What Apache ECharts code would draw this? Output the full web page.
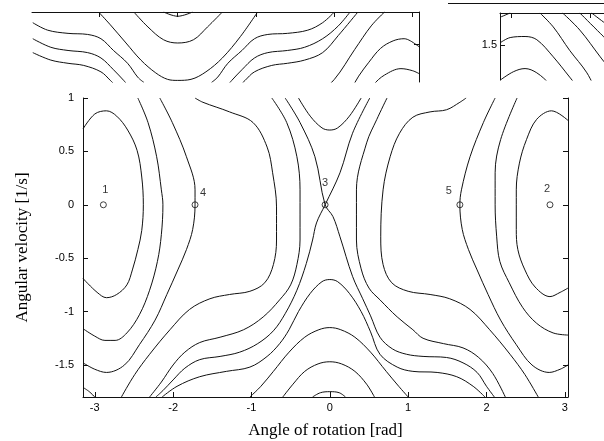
<!DOCTYPE html>
<html>
<head>
<meta charset="utf-8">
<script src="https://cdn.jsdelivr.net/npm/echarts@6/dist/echarts.min.js"></script>
<style>
html,body{margin:0;padding:0;background:#fff;}
#main{width:604px;height:441px;}
</style>
</head>
<body>
<div id="main"></div>
<script>
// tick values
var xTicks = [-3, -2, -1, 0, 1, 2, 3];
var yTicks = [-1.5, -1, -0.5, 0, 0.5, 1];

// equilibrium points
var eqNames = ['1', '2', '3', '4', '5'];
var eqX = [-2.89, 2.81, -0.06, -1.72, 1.66];
var eqY = [0, 0, 0, 0, 0];

// contour lines of the main plot  [angle, velocity]
var cA_L = [[-3.15,0.71],[-3.0,0.85],[-2.85,0.88],[-2.72,0.83],[-2.58,0.70],[-2.46,0.51],[-2.40,0.26],[-2.38,0],[-2.40,-0.24],[-2.45,-0.42],[-2.52,-0.61],[-2.59,-0.75],[-2.72,-0.84],[-2.85,-0.87],[-2.97,-0.82],[-3.15,-0.69]];
var cA_R = [[3.04,0.79],[2.83,0.88],[2.64,0.80],[2.51,0.61],[2.42,0.39],[2.38,0.14],[2.38,0],[2.38,-0.23],[2.40,-0.42],[2.49,-0.61],[2.62,-0.77],[2.81,-0.86],[2.94,-0.82],[3.04,-0.78]];
var cB_L = [[-2.45,1.0],[-2.32,0.77],[-2.21,0.45],[-2.15,0.14],[-2.13,0],[-2.15,-0.28],[-2.20,-0.53],[-2.30,-0.80],[-2.43,-1.03],[-2.59,-1.20],[-2.74,-1.27],[-2.87,-1.27],[-3.0,-1.23],[-3.15,-1.16]];
var cB_R = [[2.39,1.0],[2.18,0.61],[2.11,0.30],[2.11,0],[2.13,-0.30],[2.17,-0.53],[2.29,-0.73],[2.46,-0.96],[2.64,-1.11],[2.85,-1.20],[3.04,-1.22]];
var cC_L = [[-2.17,1.0],[-2.01,0.77],[-1.83,0.45],[-1.72,0.14],[-1.72,0],[-1.75,-0.23],[-1.83,-0.42],[-1.94,-0.61],[-2.08,-0.84],[-2.23,-1.08],[-2.43,-1.31],[-2.62,-1.50],[-2.85,-1.57],[-3.0,-1.54],[-3.15,-1.48]];
var cC_R = [[2.11,1.0],[1.96,0.77],[1.79,0.45],[1.68,0.14],[1.66,0],[1.69,-0.23],[1.77,-0.42],[1.88,-0.61],[2.02,-0.84],[2.18,-1.08],[2.38,-1.31],[2.58,-1.50],[2.80,-1.57],[2.94,-1.54],[3.04,-1.50]];
var cCorner = [[-3.15,-1.71],[-3.07,-1.75],[-3.0,-1.8]];
var cD_L = [[-1.72,1.0],[-1.62,0.96],[-1.28,0.87],[-0.98,0.77],[-0.80,0.54],[-0.73,0.30],[-0.68,-0.02],[-0.68,-0.33],[-0.72,-0.56],[-0.83,-0.73],[-1.02,-0.81],[-1.28,-0.84],[-1.53,-0.88],[-1.79,-0.98],[-2.04,-1.17],[-2.30,-1.40],[-2.49,-1.59],[-2.66,-1.80]];
var cD_R = [[1.74,1.0],[1.66,0.96],[1.49,0.89],[1.28,0.87],[1.06,0.82],[0.89,0.67],[0.77,0.45],[0.68,0.14],[0.65,-0.30],[0.68,-0.56],[0.79,-0.73],[1.0,-0.81],[1.28,-0.84],[1.53,-0.88],[1.79,-0.98],[2.04,-1.17],[2.30,-1.40],[2.49,-1.59],[2.66,-1.80]];
var cE_L = [[-0.74,1.0],[-0.55,0.77],[-0.42,0.45],[-0.38,0.14],[-0.38,-0.33],[-0.42,-0.56],[-0.50,-0.75],[-0.64,-0.89],[-0.85,-1.05],[-1.10,-1.17],[-1.40,-1.24],[-1.66,-1.29],[-1.85,-1.38],[-2.0,-1.50],[-2.15,-1.66],[-2.30,-1.8]];
var cE_R = [[0.73,1.0],[0.60,0.80],[0.47,0.58],[0.34,0.14],[0.34,-0.33],[0.40,-0.60],[0.50,-0.78],[0.64,-0.89],[0.86,-1.05],[1.06,-1.17],[1.19,-1.25],[1.45,-1.30],[1.70,-1.34],[1.90,-1.43],[2.08,-1.58],[2.24,-1.8]];
var cX1 = [[-0.57,1.0],[-0.38,0.77],[-0.19,0.45],[-0.06,0],[0.04,-0.11],[0.13,-0.30],[0.29,-0.67],[0.42,-0.88],[0.52,-1.04],[0.64,-1.24],[0.80,-1.35],[0.98,-1.40],[1.19,-1.42],[1.49,-1.43],[1.70,-1.48],[1.88,-1.57],[2.0,-1.70],[2.10,-1.8]];
var cX2 = [[0.51,1.0],[0.29,0.67],[0.13,0.30],[-0.06,0],[-0.17,-0.17],[-0.22,-0.33],[-0.30,-0.55],[-0.42,-0.80],[-0.57,-1.02],[-0.72,-1.18],[-0.92,-1.30],[-1.15,-1.38],[-1.40,-1.42],[-1.66,-1.45],[-1.85,-1.53],[-2.0,-1.64],[-2.13,-1.74],[-2.22,-1.8]];
var cU = [[-0.40,1.0],[-0.25,0.83],[-0.10,0.72],[0,0.70],[0.10,0.72],[0.25,0.83],[0.40,1.0]];
var cArch0 = [[-2.14,-1.8],[-1.95,-1.70],[-1.66,-1.61],[-1.32,-1.56],[-1.02,-1.52],[-0.80,-1.42],[-0.64,-1.30],[-0.52,-1.17],[-0.40,-1.0],[-0.25,-0.83],[-0.10,-0.72],[0,-0.70],[0.10,-0.72],[0.25,-0.83],[0.40,-1.0],[0.52,-1.19],[0.64,-1.40],[0.86,-1.52],[1.06,-1.56],[1.37,-1.57],[1.62,-1.61],[1.83,-1.70],[1.98,-1.8]];
var cArch1 = [[-1.02,-1.8],[-0.88,-1.70],[-0.72,-1.56],[-0.52,-1.38],[-0.32,-1.24],[-0.14,-1.17],[0,-1.15],[0.14,-1.17],[0.32,-1.24],[0.52,-1.38],[0.72,-1.56],[0.88,-1.70],[1.0,-1.8]];
var cArch2 = [[-0.60,-1.8],[-0.47,-1.68],[-0.32,-1.56],[-0.15,-1.49],[0,-1.47],[0.15,-1.49],[0.32,-1.56],[0.47,-1.68],[0.57,-1.8]];
var cCap = [[-0.22,-1.8],[-0.12,-1.76],[0,-1.75],[0.12,-1.76],[0.20,-1.8]];

// contour lines of the upper strip (left piece)
var s1 = [[-1.01,1.8],[-0.86,1.68],[-0.66,1.51],[-0.47,1.35],[-0.28,1.23],[-0.13,1.17],[0,1.16],[0.17,1.17],[0.36,1.24],[0.57,1.37],[0.80,1.57],[1.02,1.8]];
var s2 = [[-0.56,1.8],[-0.38,1.66],[-0.18,1.54],[0,1.51],[0.20,1.54],[0.38,1.66],[0.57,1.8]];
var s3 = [[-0.18,1.8],[0,1.76],[0.19,1.8]];
var s4 = [[-1.85,1.70],[-1.66,1.63],[-1.40,1.60],[-1.15,1.59],[-0.98,1.55],[-0.82,1.44],[-0.64,1.32],[-0.51,1.19],[-0.43,1.14]];
var s5 = [[-1.85,1.55],[-1.62,1.47],[-1.40,1.44],[-1.15,1.42],[-0.98,1.37],[-0.82,1.26],[-0.69,1.16],[-0.62,1.10]];
var s6 = [[-1.85,1.42],[-1.62,1.35],[-1.40,1.32],[-1.20,1.30],[-0.98,1.24],[-0.86,1.16],[-0.75,1.08]];
var s7 = [[0.43,1.14],[0.51,1.19],[0.64,1.32],[0.82,1.44],[0.98,1.55],[1.15,1.59],[1.40,1.60],[1.66,1.63],[1.85,1.70],[2.0,1.8]];
var s8 = [[0.62,1.10],[0.69,1.16],[0.82,1.26],[0.98,1.37],[1.15,1.42],[1.40,1.44],[1.62,1.47],[1.85,1.55],[2.05,1.67],[2.20,1.8]];
var s9 = [[0.75,1.08],[0.86,1.16],[0.98,1.24],[1.20,1.30],[1.40,1.32],[1.62,1.35],[1.85,1.42],[2.05,1.58],[2.30,1.8]];
var s10 = [[1.74,1.0],[2.0,1.17],[2.26,1.45],[2.47,1.67],[2.64,1.8]];
var s11 = [[2.11,1.0],[2.21,1.08],[2.31,1.20],[2.44,1.33],[2.59,1.46],[2.75,1.53],[2.89,1.55],[2.97,1.53],[3.09,1.47]];
var s12 = [[2.39,1.0],[2.50,1.12],[2.64,1.21],[2.85,1.27],[3.0,1.25],[3.09,1.22]];

// upper strip (right piece)
var r1 = [[-3.15,1.52],[-3.02,1.57],[-2.83,1.58],[-2.68,1.55],[-2.47,1.39],[-2.26,1.20],[-2.13,1.08]];
var r2 = [[-3.15,1.17],[-2.98,1.25],[-2.83,1.28],[-2.68,1.24],[-2.51,1.13],[-2.38,1.01]];
var r3 = [[-2.64,1.8],[-2.47,1.67],[-2.26,1.45],[-2.04,1.24],[-1.91,1.05]];
var r4 = [[-2.35,1.8],[-2.13,1.64],[-1.87,1.39],[-1.72,1.25]];
var r5 = [[-2.13,1.8],[-1.87,1.61],[-1.72,1.50]];
var r6 = [[-3.15,1.76],[-3.02,1.8]];
var r7 = [[-1.98,1.8],[-1.80,1.70],[-1.74,1.67]];

var mainCurves = [cA_L, cA_R, cB_L, cB_R, cC_L, cC_R, cCorner, cD_L, cD_R, cE_L, cE_R, cX1, cX2, cU, cArch0, cArch1, cArch2, cCap];
var stripCurves = [s1, s2, s3, s4, s5, s6, s7, s8, s9, s10, s11, s12];
var pieceCurves = [r1, r2, r3, r4, r5, r6, r7];

var FONT = 'Liberation Sans';
var SERIF = 'Liberation Serif';
var INK = '#111';

function line(d, xi, yi) {
  return {
    type: 'line', data: d, xAxisIndex: xi, yAxisIndex: yi,
    showSymbol: false, smooth: 0.35, silent: true,
    lineStyle: { color: INK, width: 1 }
  };
}

var series = [];
mainCurves.forEach(function (c) { series.push(line(c, 0, 0)); });
stripCurves.forEach(function (c) { series.push(line(c, 1, 2)); });
pieceCurves.forEach(function (c) { series.push(line(c, 2, 3)); });

var labelOffsets = { '1': [2, -15], '2': [-3, -16], '3': [0, -22], '4': [8, -12], '5': [-11, -14] };
series.push({
  type: 'scatter', xAxisIndex: 0, yAxisIndex: 0, symbol: 'circle', symbolSize: 6, silent: true,
  itemStyle: { color: '#fff', borderColor: INK, borderWidth: 1 },
  data: eqNames.map(function (n, i) {
    return { name: n, value: [eqX[i], eqY[i]], label: { offset: labelOffsets[n] } };
  }),
  label: { show: true, position: 'inside', formatter: '{b}', color: '#000', fontSize: 11, fontFamily: FONT }
});

var axLine = { show: true, onZero: false, lineStyle: { color: INK, width: 1 } };

var option = {
  animation: false,
  backgroundColor: '#fff',
  grid: [
    { left: 83, top: 98, width: 485, height: 299, containLabel: false, outerBoundsMode: 'none' },
    { left: 32, top: 12, width: 387, height: 70, containLabel: false, outerBoundsMode: 'none' },
    { left: 500, top: 13, width: 110, height: 67, containLabel: false, outerBoundsMode: 'none' }
  ],
  xAxis: [
    {
      type: 'value', gridIndex: 0, min: -3.15, max: 3.04,
      axisLine: axLine,
      axisTick: { show: true, inside: true, length: 5, customValues: xTicks, lineStyle: { color: INK } },
      axisLabel: { customValues: xTicks, color: '#000', fontSize: 11, fontFamily: FONT, margin: 5 },
      splitLine: { show: false },
      name: 'Angle of rotation [rad]', nameLocation: 'middle', nameGap: 25,
      nameTextStyle: { fontFamily: SERIF, fontSize: 17, color: '#000' }
    },
    {
      type: 'value', gridIndex: 1, position: 'top', min: -1.86, max: 3.08,
      axisLine: axLine,
      axisTick: { show: true, inside: true, length: 5, customValues: [-1, 0, 1, 2, 3], lineStyle: { color: INK } },
      axisLabel: { show: false }, splitLine: { show: false }
    },
    {
      type: 'value', gridIndex: 2, position: 'top', min: -3.15, max: -1.745,
      axisLine: axLine,
      axisTick: { show: true, inside: true, length: 5, customValues: [-3, -2], lineStyle: { color: INK } },
      axisLabel: { show: false }, splitLine: { show: false }
    }
  ],
  yAxis: [
    {
      type: 'value', gridIndex: 0, min: -1.8, max: 1,
      axisLine: axLine,
      axisTick: { show: true, inside: true, length: 5, customValues: yTicks, lineStyle: { color: INK } },
      axisLabel: { customValues: yTicks, color: '#000', fontSize: 11, fontFamily: FONT, margin: 9 },
      splitLine: { show: false },
      name: 'Angular velocity [1/s]', nameLocation: 'middle', nameGap: 52,
      nameTextStyle: { fontFamily: SERIF, fontSize: 17, color: '#000' }
    },
    {
      type: 'value', gridIndex: 0, position: 'right', min: -1.8, max: 1,
      axisLine: axLine,
      axisTick: { show: true, inside: true, length: 5, customValues: yTicks, lineStyle: { color: INK } },
      axisLabel: { show: false }, splitLine: { show: false }
    },
    {
      type: 'value', gridIndex: 1, position: 'right', min: 1.145, max: 1.8,
      axisLine: axLine,
      axisTick: { show: true, inside: true, length: 5, customValues: [1.5], lineStyle: { color: INK } },
      axisLabel: { show: false }, splitLine: { show: false }
    },
    {
      type: 'value', gridIndex: 2, position: 'left', min: 1.173, max: 1.8,
      axisLine: axLine,
      axisTick: { show: true, inside: true, length: 5, customValues: [1.5], lineStyle: { color: INK } },
      axisLabel: { customValues: [1.5], color: '#000', fontSize: 11, fontFamily: FONT, margin: 3 },
      splitLine: { show: false }
    }
  ],
  graphic: [
    { type: 'line', shape: { x1: 448, y1: 3.5, x2: 604, y2: 3.5 }, style: { stroke: INK, lineWidth: 1 }, silent: true }
  ],
  series: series
};

var chart = echarts.init(document.getElementById('main'), null, { renderer: 'canvas' });
chart.setOption(option);
</script>
</body>
</html>
